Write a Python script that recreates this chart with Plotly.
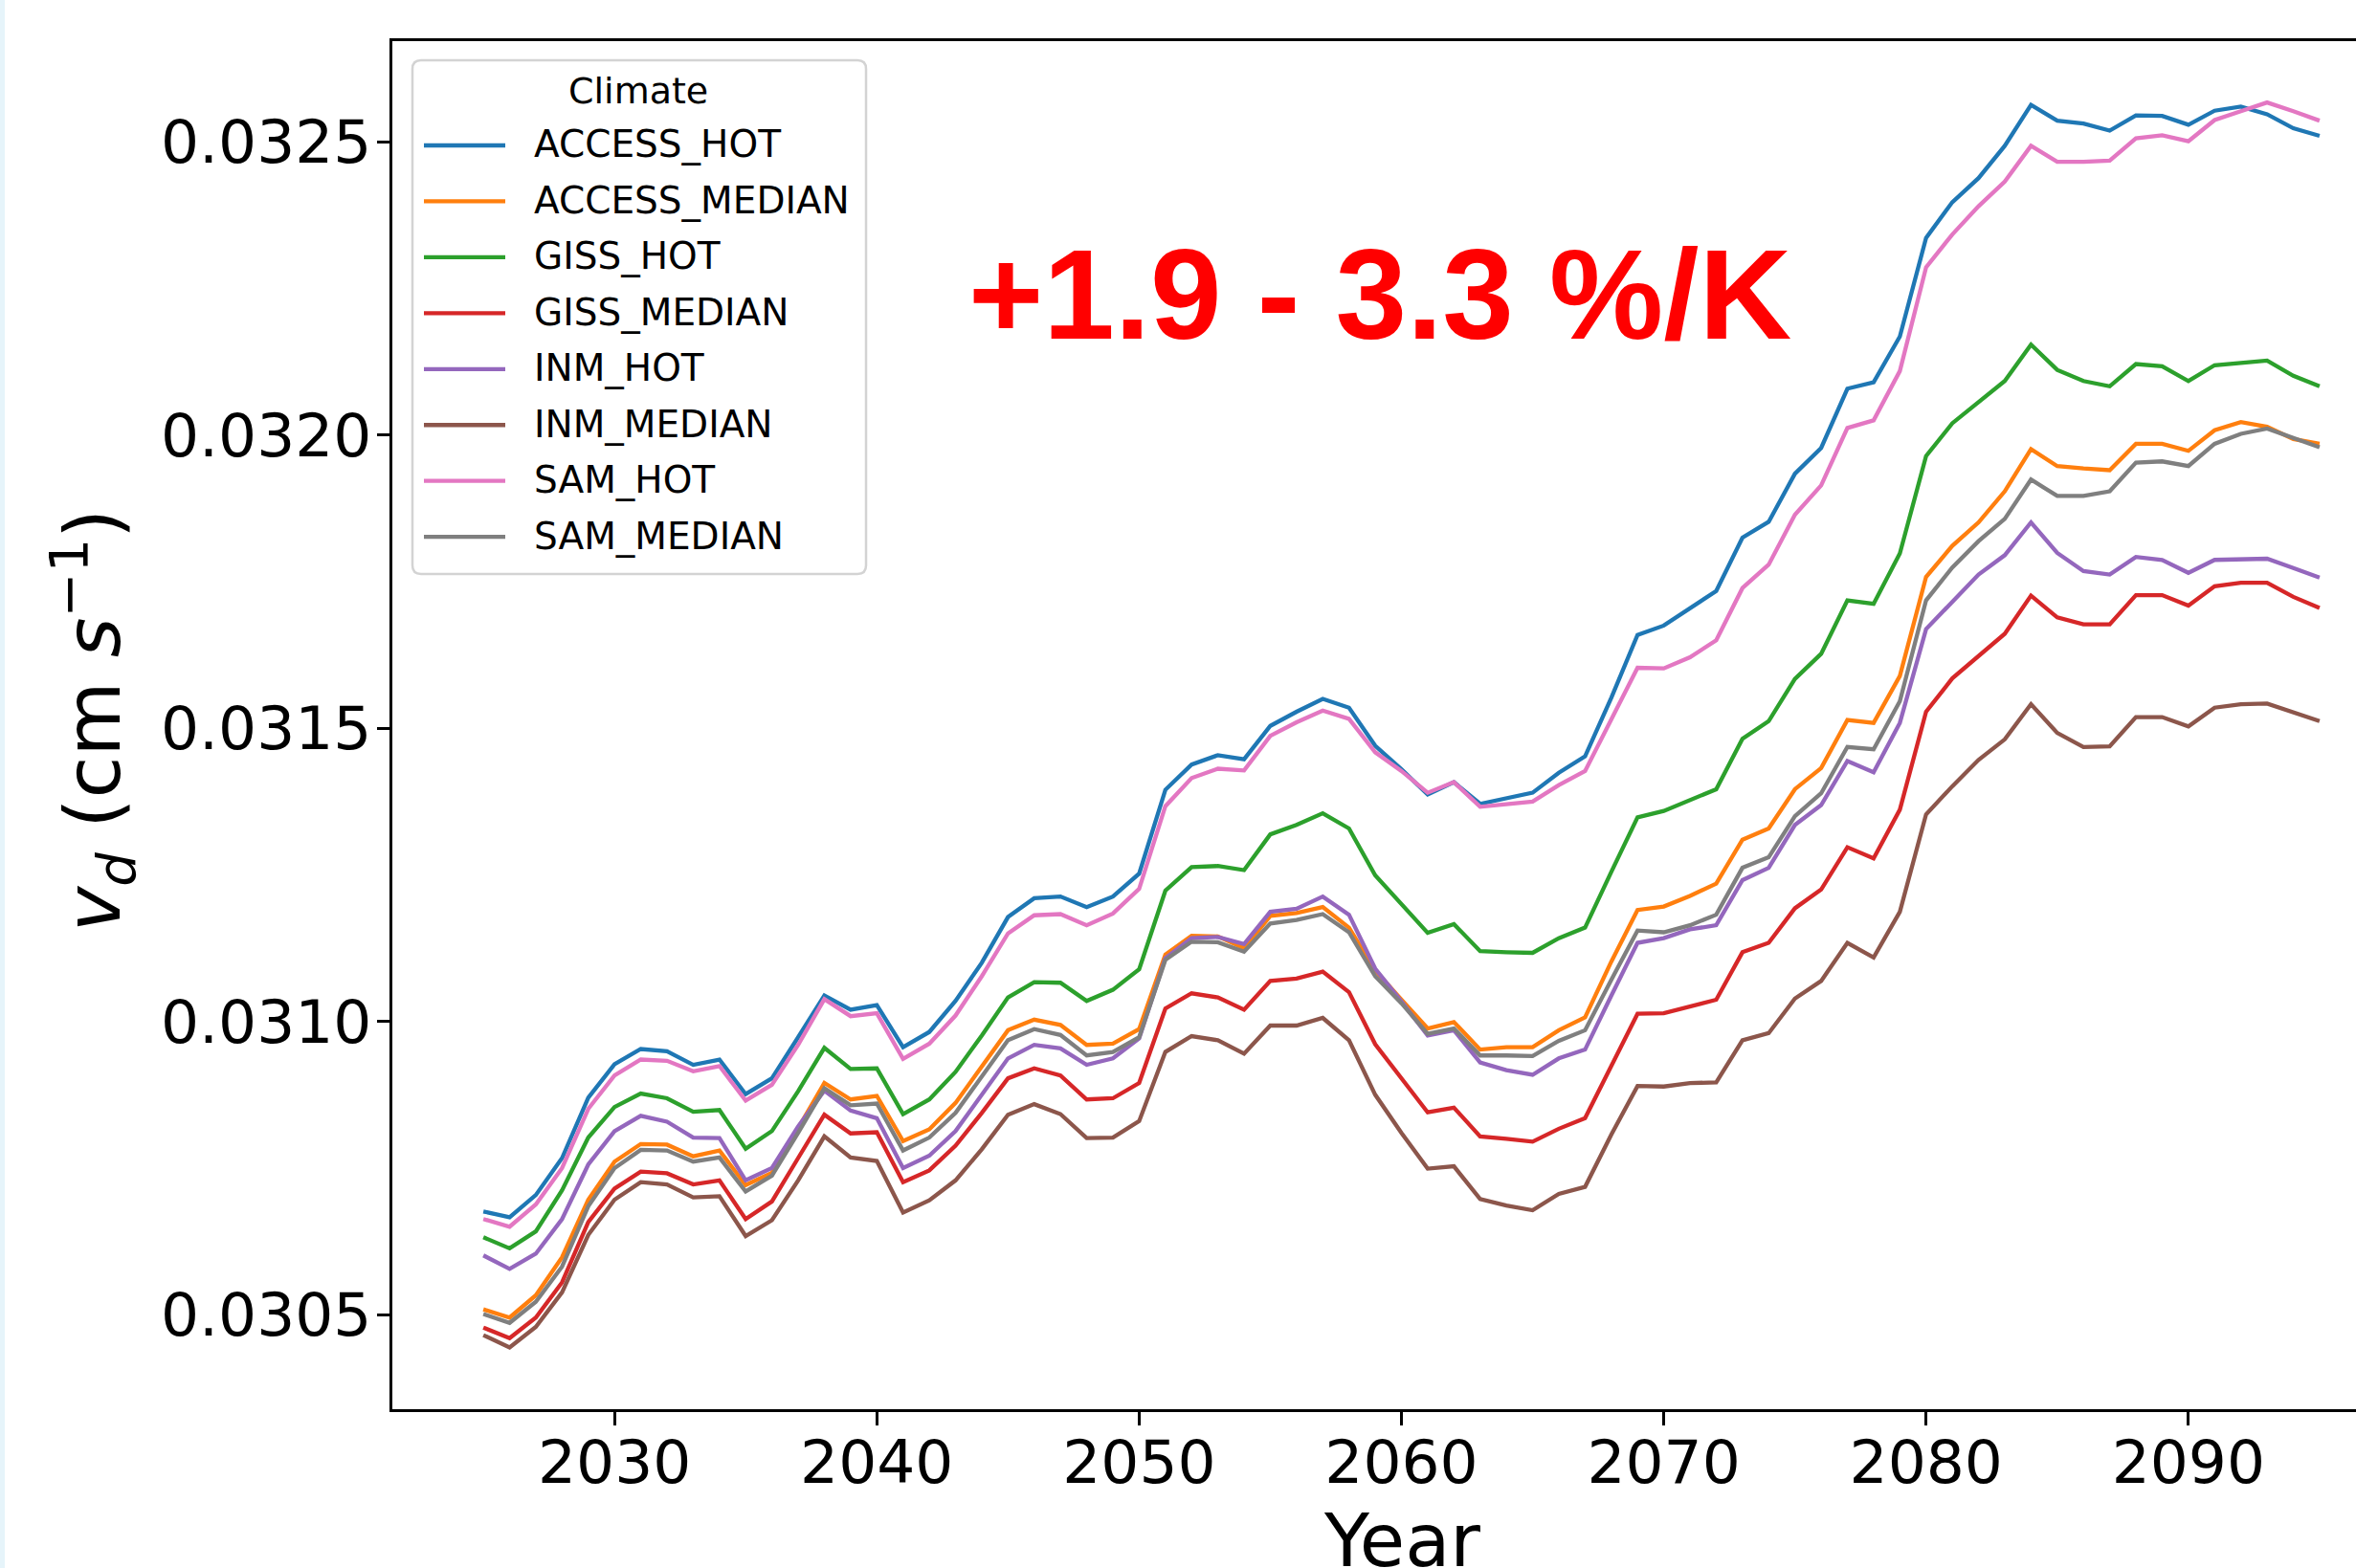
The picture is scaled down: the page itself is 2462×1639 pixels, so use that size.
import plotly.graph_objects as go

years = list(range(2025, 2096))

access_hot = [0.030676, 0.030666, 0.030704, 0.030767, 0.030870, 0.030927, 0.030953, 0.030949, 0.030926, 0.030935,
              0.030876, 0.030903, 0.030973, 0.031044, 0.031020, 0.031028, 0.030956, 0.030982, 0.031035, 0.031100,
              0.031178, 0.031210, 0.031213, 0.031195, 0.031213, 0.031252, 0.031395, 0.031438, 0.031454, 0.031447,
              0.031504, 0.031528, 0.031550, 0.031535, 0.031470, 0.031430, 0.031387, 0.031408, 0.031371, 0.031381,
              0.031390, 0.031424, 0.031452, 0.031552, 0.031659, 0.031675, 0.031704, 0.031734, 0.031825, 0.031852,
              0.031934, 0.031978, 0.032079, 0.032090, 0.032168, 0.032336, 0.032397, 0.032438, 0.032493, 0.032563,
              0.032536, 0.032531, 0.032519, 0.032545, 0.032544, 0.032529, 0.032553, 0.032560, 0.032547, 0.032523,
              0.032510]
access_median = [0.030509, 0.030495, 0.030533, 0.030598, 0.030696, 0.030761, 0.030791, 0.030790, 0.030770, 0.030780,
                 0.030721, 0.030742, 0.030818, 0.030895, 0.030867, 0.030873, 0.030796, 0.030816, 0.030861, 0.030923,
                 0.030985, 0.031003, 0.030994, 0.030960, 0.030962, 0.030987, 0.031114, 0.031146, 0.031145, 0.031125,
                 0.031180, 0.031185, 0.031195, 0.031160, 0.031087, 0.031037, 0.030988, 0.030999, 0.030952, 0.030956,
                 0.030956, 0.030985, 0.031007, 0.031102, 0.031190, 0.031196, 0.031214, 0.031235, 0.031310, 0.031329,
                 0.031396, 0.031432, 0.031514, 0.031509, 0.031589, 0.031758, 0.031811, 0.031851, 0.031904, 0.031976,
                 0.031947, 0.031943, 0.031940, 0.031985, 0.031985, 0.031973, 0.032008, 0.032022, 0.032014, 0.031993,
                 0.031985]
giss_hot = [0.030632, 0.030613, 0.030642, 0.030712, 0.030802, 0.030854, 0.030877, 0.030869, 0.030846, 0.030849,
            0.030783, 0.030813, 0.030881, 0.030955, 0.030919, 0.030920, 0.030842, 0.030867, 0.030914, 0.030976,
            0.031041, 0.031067, 0.031066, 0.031035, 0.031054, 0.031089, 0.031223, 0.031263, 0.031265, 0.031258,
            0.031319, 0.031335, 0.031355, 0.031329, 0.031249, 0.031200, 0.031151, 0.031166, 0.031120, 0.031118,
            0.031117, 0.031142, 0.031160, 0.031255, 0.031348, 0.031359, 0.031378, 0.031396, 0.031482, 0.031512,
            0.031584, 0.031627, 0.031718, 0.031712, 0.031798, 0.031964, 0.032020, 0.032057, 0.032092, 0.032154,
            0.032111, 0.032092, 0.032083, 0.032121, 0.032117, 0.032092, 0.032119, 0.032123, 0.032127, 0.032101,
            0.032083]
giss_median = [0.030478, 0.030460, 0.030495, 0.030555, 0.030658, 0.030715, 0.030744, 0.030741, 0.030722, 0.030729,
               0.030663, 0.030693, 0.030767, 0.030841, 0.030809, 0.030811, 0.030726, 0.030746, 0.030788, 0.030844,
               0.030903, 0.030920, 0.030908, 0.030867, 0.030869, 0.030895, 0.031022, 0.031048, 0.031041, 0.031020,
               0.031069, 0.031073, 0.031085, 0.031050, 0.030961, 0.030902, 0.030845, 0.030853, 0.030804, 0.030800,
               0.030795, 0.030817, 0.030835, 0.030924, 0.031013, 0.031014, 0.031026, 0.031037, 0.031118, 0.031134,
               0.031193, 0.031225, 0.031297, 0.031278, 0.031361, 0.031528, 0.031585, 0.031624, 0.031661, 0.031726,
               0.031689, 0.031677, 0.031677, 0.031727, 0.031727, 0.031709, 0.031742, 0.031748, 0.031748, 0.031724,
               0.031705]
inm_hot = [0.030601, 0.030578, 0.030604, 0.030663, 0.030756, 0.030813, 0.030839, 0.030829, 0.030802, 0.030801,
           0.030729, 0.030750, 0.030821, 0.030882, 0.030848, 0.030835, 0.030750, 0.030771, 0.030813, 0.030875,
           0.030937, 0.030960, 0.030954, 0.030926, 0.030937, 0.030971, 0.031108, 0.031142, 0.031144, 0.031132,
           0.031187, 0.031192, 0.031213, 0.031182, 0.031090, 0.031034, 0.030976, 0.030985, 0.030930, 0.030917,
           0.030909, 0.030937, 0.030952, 0.031044, 0.031134, 0.031142, 0.031157, 0.031164, 0.031241, 0.031262,
           0.031335, 0.031369, 0.031444, 0.031425, 0.031509, 0.031669, 0.031715, 0.031762, 0.031795, 0.031851,
           0.031799, 0.031768, 0.031762, 0.031792, 0.031787, 0.031765, 0.031787, 0.031788, 0.031789, 0.031773,
           0.031757]
inm_median = [0.030465, 0.030444, 0.030479, 0.030538, 0.030636, 0.030696, 0.030726, 0.030722, 0.030700, 0.030702,
              0.030634, 0.030661, 0.030729, 0.030804, 0.030768, 0.030762, 0.030674, 0.030695, 0.030729, 0.030782,
              0.030841, 0.030859, 0.030842, 0.030801, 0.030802, 0.030830, 0.030948, 0.030975, 0.030968, 0.030945,
              0.030993, 0.030993, 0.031006, 0.030968, 0.030875, 0.030810, 0.030749, 0.030753, 0.030697, 0.030686,
              0.030678, 0.030706, 0.030718, 0.030807, 0.030890, 0.030889, 0.030895, 0.030896, 0.030968, 0.030980,
              0.031039, 0.031069, 0.031134, 0.031109, 0.031187, 0.031353, 0.031401, 0.031446, 0.031481, 0.031541,
              0.031492, 0.031468, 0.031469, 0.031519, 0.031519, 0.031503, 0.031535, 0.031541, 0.031542, 0.031527,
              0.031512]
sam_hot = [0.030663, 0.030650, 0.030688, 0.030750, 0.030851, 0.030908, 0.030935, 0.030933, 0.030915, 0.030924,
           0.030865, 0.030892, 0.030960, 0.031038, 0.031009, 0.031014, 0.030936, 0.030962, 0.031010, 0.031077,
           0.031150, 0.031181, 0.031183, 0.031164, 0.031184, 0.031226, 0.031367, 0.031415, 0.031431, 0.031428,
           0.031487, 0.031510, 0.031530, 0.031516, 0.031459, 0.031427, 0.031390, 0.031408, 0.031366, 0.031371,
           0.031375, 0.031403, 0.031427, 0.031515, 0.031603, 0.031602, 0.031621, 0.031650, 0.031739, 0.031779,
           0.031864, 0.031914, 0.032012, 0.032025, 0.032109, 0.032286, 0.032342, 0.032390, 0.032432, 0.032493,
           0.032466, 0.032466, 0.032468, 0.032506, 0.032511, 0.032501, 0.032537, 0.032552, 0.032567, 0.032552,
           0.032536]
sam_median = [0.030501, 0.030486, 0.030522, 0.030582, 0.030685, 0.030750, 0.030781, 0.030780, 0.030761, 0.030768,
              0.030710, 0.030737, 0.030810, 0.030886, 0.030857, 0.030860, 0.030780, 0.030802, 0.030844, 0.030906,
              0.030968, 0.030987, 0.030977, 0.030942, 0.030948, 0.030973, 0.031105, 0.031136, 0.031135, 0.031119,
              0.031167, 0.031173, 0.031183, 0.031152, 0.031077, 0.031031, 0.030979, 0.030988, 0.030942, 0.030942,
              0.030941, 0.030967, 0.030985, 0.031071, 0.031155, 0.031152, 0.031164, 0.031182, 0.031262, 0.031280,
              0.031350, 0.031389, 0.031468, 0.031464, 0.031546, 0.031718, 0.031774, 0.031819, 0.031857, 0.031924,
              0.031896, 0.031896, 0.031904, 0.031953, 0.031955, 0.031947, 0.031985, 0.032002, 0.032011, 0.031995,
              0.031979]

series_names = ["ACCESS_HOT", "ACCESS_MEDIAN", "GISS_HOT", "GISS_MEDIAN",
                "INM_HOT", "INM_MEDIAN", "SAM_HOT", "SAM_MEDIAN"]
series_values = [access_hot, access_median, giss_hot, giss_median,
                 inm_hot, inm_median, sam_hot, sam_median]
colors = ["#1f77b4", "#ff7f0e", "#2ca02c", "#d62728",
          "#9467bd", "#8c564b", "#e377c2", "#7f7f7f"]

x_ticks = [2030, 2040, 2050, 2060, 2070, 2080, 2090]
y_ticks = [0.0305, 0.0310, 0.0315, 0.0320, 0.0325]
y_tick_text = ["0.0305", "0.0310", "0.0315", "0.0320", "0.0325"]

legend_title = "Climate"
annotation_text = "+1.9 - 3.3 %/K"
x_title = "Year"
y_title = "<i>v</i><sub><i>d</i></sub> (cm <i>s</i><sup>\u22121</sup>)"

W, H = 2462, 1639
L, T, B = 410, 43, 1473
PW, PH = W - L, B - T


def px_x(px):
    return (px - L) / PW


def px_y(py):
    return (B - py) / PH


font_family = "DejaVu Sans"

fig = go.Figure()
for name, vals, col in zip(series_names, series_values, colors):
    fig.add_trace(go.Scatter(x=years, y=vals, mode="lines", name=name,
                             showlegend=False,
                             line=dict(color=col, width=4.3)))

# ---- legend box (drawn as shapes + text so the key lines match the original) ----
LX0, LX1, LY0, LY1, RAD = 431, 905, 63, 600, 9


def rounded_rect_path(x0, y0, x1, y1, r):
    pts = [
        f"M {px_x(x0 + r)},{px_y(y0)}",
        f"L {px_x(x1 - r)},{px_y(y0)}",
        f"Q {px_x(x1)},{px_y(y0)} {px_x(x1)},{px_y(y0 + r)}",
        f"L {px_x(x1)},{px_y(y1 - r)}",
        f"Q {px_x(x1)},{px_y(y1)} {px_x(x1 - r)},{px_y(y1)}",
        f"L {px_x(x0 + r)},{px_y(y1)}",
        f"Q {px_x(x0)},{px_y(y1)} {px_x(x0)},{px_y(y1 - r)}",
        f"L {px_x(x0)},{px_y(y0 + r)}",
        f"Q {px_x(x0)},{px_y(y0)} {px_x(x0 + r)},{px_y(y0)}",
        "Z",
    ]
    return " ".join(pts)


shapes = [
    dict(type="rect", xref="paper", yref="paper", x0=px_x(0), x1=px_x(5),
         y0=px_y(H), y1=px_y(0), fillcolor="#e6f4fa", line=dict(width=0),
         layer="below"),
    dict(type="path", xref="paper", yref="paper",
         path=rounded_rect_path(LX0, LY0, LX1, LY1, RAD),
         fillcolor="white", line=dict(color="#d3d3d3", width=2.5), layer="above"),
]

annotations = []
entry_y0, entry_dy = 152, 58.45
for i, (name, col) in enumerate(zip(series_names, colors)):
    yy = entry_y0 + i * entry_dy
    shapes.append(dict(type="line", xref="paper", yref="paper",
                       x0=px_x(443), x1=px_x(528), y0=px_y(yy), y1=px_y(yy),
                       line=dict(color=col, width=4.3), layer="above"))
    annotations.append(dict(text=name, xref="paper", yref="paper",
                            x=px_x(556), y=px_y(yy - 1), xanchor="left", yanchor="middle",
                            showarrow=False,
                            font=dict(family=font_family, size=39, color="black")))

annotations.append(dict(text=legend_title, xref="paper", yref="paper",
                        x=px_x(667), y=px_y(95), xanchor="center", yanchor="middle",
                        showarrow=False,
                        font=dict(family=font_family, size=38, color="black")))

annotations += [
    dict(text=annotation_text, xref="paper", yref="paper",
         x=px_x(1442), y=px_y(307), xanchor="center", yanchor="middle",
         showarrow=False,
         font=dict(family="Liberation Sans", size=134, color="#ff0000", weight="bold")),
    dict(text=x_title, xref="paper", yref="paper",
         x=px_x(1465), y=px_y(1610), xanchor="center", yanchor="middle",
         showarrow=False, font=dict(family=font_family, size=77, color="black")),
    dict(text=y_title, xref="paper", yref="paper", textangle=-90,
         x=px_x(97), y=px_y(753), xanchor="center", yanchor="middle",
         showarrow=False, font=dict(family=font_family, size=80, color="black")),
]

fig.update_layout(
    width=W, height=H,
    margin=dict(l=L, r=0, t=T, b=H - B, pad=0),
    paper_bgcolor="white", plot_bgcolor="white",
    font=dict(family=font_family, color="black"),
    showlegend=False,
    xaxis=dict(
        range=[2021.53, 2096.39], tickmode="array", tickvals=x_ticks,
        showgrid=False, zeroline=False, showline=True, linecolor="black",
        linewidth=3, mirror=True, ticks="outside", ticklen=14, tickwidth=3,
        tickcolor="black", ticklabelstandoff=-16,
        tickfont=dict(family=font_family, size=63, color="black"),
    ),
    yaxis=dict(
        range=[0.0303388, 0.0326716], tickmode="array", tickvals=y_ticks,
        ticktext=y_tick_text,
        showgrid=False, zeroline=False, showline=True, linecolor="black",
        linewidth=3, ticks="outside", ticklen=13, tickwidth=3,
        tickcolor="black", ticklabelstandoff=-7,
        tickfont=dict(family=font_family, size=63, color="black"),
    ),
    shapes=shapes,
    annotations=annotations,
)

fig.write_html("out.html", config={"displayModeBar": False},
               post_script="document.body.style.margin='0';document.body.style.overflow='hidden';")
